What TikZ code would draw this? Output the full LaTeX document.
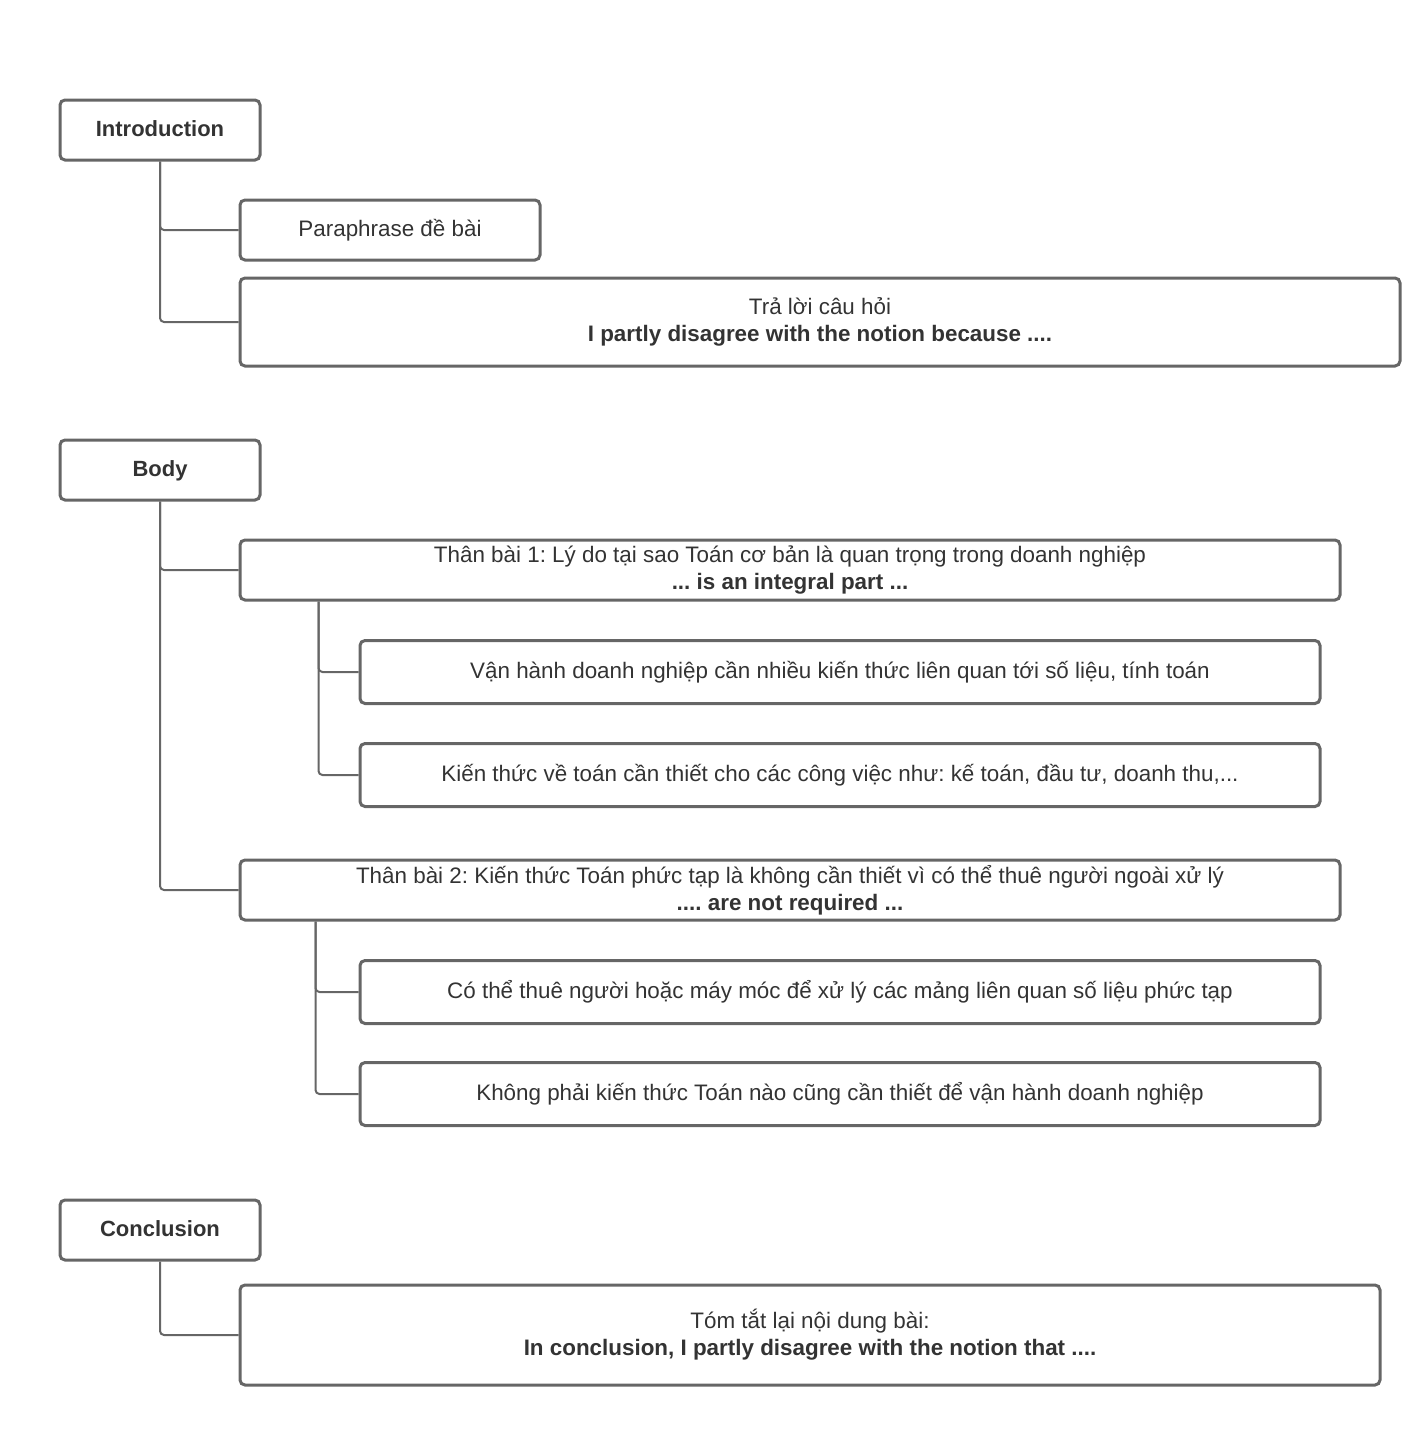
\documentclass[tikz,border=0pt]{standalone}
\usepackage{fontspec}
\setmainfont{Liberation Sans}
\frenchspacing
\definecolor{edge}{HTML}{666666}
\definecolor{ink}{HTML}{333333}
\begin{document}
\begin{tikzpicture}[x=1pt, y=-1pt,
  every node/.style={font=\fontsize{22.4}{27}\selectfont, text=ink},
  part/.style={draw=edge, line width=3pt, rounded corners=5pt, minimum width=200pt, minimum height=60pt, text depth=2pt, font=\fontsize{22}{27}\selectfont\bfseries},
  item/.style={draw=edge, line width=3pt, rounded corners=5pt, align=center, inner sep=0pt},
  link/.style={draw=edge, line width=2pt, rounded corners=4pt}]
\useasboundingbox (0,0) rectangle (1424,1440);
% introduction
\node[part] (intro) at (160,130) {Introduction};
\node[item, minimum width=300pt, minimum height=60pt] (para) at (390,230) {Paraphrase đề bài};
\node[item, minimum width=1160pt, minimum height=88pt] (answer) at (820,322)
  {Trả lời câu hỏi\\\textbf{I partly disagree with the notion because ....}};
\draw[link] (intro.south) |- (para.west);
\draw[link] (intro.south) |- (answer.west);
% body
\node[part] (body) at (160,470) {Body};
\node[item, minimum width=1100pt, minimum height=60pt] (tb1) at (790,570)
  {Thân bài 1: Lý do tại sao Toán cơ bản là quan trọng trong doanh nghiệp\\\textbf{... is an integral part ...}};
\node[item, minimum width=960pt, minimum height=63pt] (op) at (840,672)
  {Vận hành doanh nghiệp cần nhiều kiến thức liên quan tới số liệu, tính toán};
\node[item, minimum width=960pt, minimum height=63pt] (job) at (840,775)
  {Kiến thức về toán cần thiết cho các công việc như: kế toán, đầu tư, doanh thu,...};
\node[item, minimum width=1100pt, minimum height=60pt] (tb2) at (790,890)
  {Thân bài 2: Kiến thức Toán phức tạp là không cần thiết vì có thể thuê người ngoài xử lý\\\textbf{.... are not required ...}};
\node[item, minimum width=960pt, minimum height=63pt] (hire) at (840,992)
  {Có thể thuê người hoặc máy móc để xử lý các mảng liên quan số liệu phức tạp};
\node[item, minimum width=960pt, minimum height=63pt] (notall) at (840,1094)
  {Không phải kiến thức Toán nào cũng cần thiết để vận hành doanh nghiệp};
\draw[link] (body.south) |- (tb1.west);
\draw[link] (body.south) |- (tb2.west);
\draw[link] ([xshift=80pt]tb1.south west) |- (op.west);
\draw[link] ([xshift=80pt]tb1.south west) |- (job.west);
\draw[link] ([xshift=77pt]tb2.south west) |- (hire.west);
\draw[link] ([xshift=77pt]tb2.south west) |- (notall.west);
% conclusion
\node[part] (concl) at (160,1230) {Conclusion};
\node[item, minimum width=1140pt, minimum height=100pt] (sum) at (810,1335)
  {Tóm tắt lại nội dung bài:\\\textbf{In conclusion, I partly disagree with the notion that ....}};
\draw[link] (concl.south) |- (sum.west);
\end{tikzpicture}
\end{document}
